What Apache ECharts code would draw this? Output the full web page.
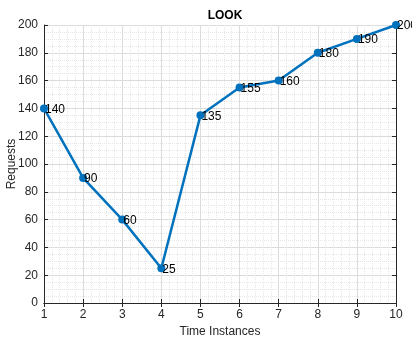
<!DOCTYPE html>
<html>
<head>
<meta charset="utf-8">
<script src="https://cdn.jsdelivr.net/npm/echarts@6/dist/echarts.min.js"></script>
<style>
    html, body { margin: 0; padding: 0; background: #fff; }
    #chart { width: 412px; height: 340px; }
</style>
</head>
<body>
<div id="chart"></div>
<script>
// time instances and request values
var timeInstances = [1, 2, 3, 4, 5, 6, 7, 8, 9, 10];
var requests = [140, 90, 60, 25, 135, 155, 160, 180, 190, 200];

var textColor = '#262626';
var fontFamily = 'Liberation Sans, Arial, sans-serif';

var data = [];
for (var i = 0; i < timeInstances.length; ++i) {
    data.push([timeInstances[i], requests[i]]);
}

function boxAxis(position, min, max, interval, minorSplit, show) {
    return {
        type: 'value',
        position: position,
        min: min,
        max: max,
        interval: interval,
        axisLine: { show: true, lineStyle: { color: textColor, width: 1 } },
        axisTick: { show: true, inside: true, length: 4, lineStyle: { color: textColor } },
        axisLabel: {
            show: show,
            color: textColor,
            fontSize: 12,
            fontFamily: fontFamily,
            margin: 6
        },
        splitLine: { show: show, lineStyle: { color: '#dcdcdc', width: 1 } },
        minorTick: { show: show, splitNumber: minorSplit, length: 0 },
        minorSplitLine: { show: show, lineStyle: { color: '#e6e6e6', type: 'dotted', width: 1 } }
    };
}

var chart = echarts.init(document.getElementById('chart'));

var xBottom = boxAxis('bottom', 1, 10, 1, 5, true);
xBottom.name = 'Time Instances';
xBottom.nameLocation = 'middle';
xBottom.nameGap = 23;
xBottom.nameMoveOverlap = false;
xBottom.nameTextStyle = { color: textColor, fontSize: 12, fontFamily: fontFamily };

var yLeft = boxAxis('left', 0, 200, 20, 4, true);
yLeft.name = 'Requests';
yLeft.nameLocation = 'middle';
yLeft.nameGap = 26;
yLeft.nameMoveOverlap = false;
yLeft.nameTextStyle = { color: textColor, fontSize: 12, fontFamily: fontFamily };

chart.setOption({
    animation: false,
    backgroundColor: '#fff',
    title: {
        text: 'LOOK',
        left: 220,
        textAlign: 'center',
        top: 5,
        textStyle: { color: '#000', fontSize: 12, fontWeight: 'bold', fontFamily: fontFamily }
    },
    grid: { left: 44, right: 16, top: 25, bottom: 37, outerBoundsMode: 'none', containLabel: false },
    xAxis: [xBottom, boxAxis('top', 1, 10, 1, 5, false)],
    yAxis: [yLeft, boxAxis('right', 0, 200, 20, 4, false)],
    series: [{
        type: 'line',
        data: data,
        xAxisIndex: 0,
        yAxisIndex: 0,
        symbol: 'circle',
        symbolSize: 8,
        clip: false,
        lineStyle: { color: '#0072BD', width: 2.5 },
        itemStyle: { color: '#0072BD' },
        label: {
            show: true,
            position: 'right',
            distance: 0,
            offset: [-3, 1],
            color: '#000',
            fontSize: 12,
            fontFamily: fontFamily,
            formatter: function (p) {
                return p.value[1];
            }
        }
    }]
});
</script>
</body>
</html>
